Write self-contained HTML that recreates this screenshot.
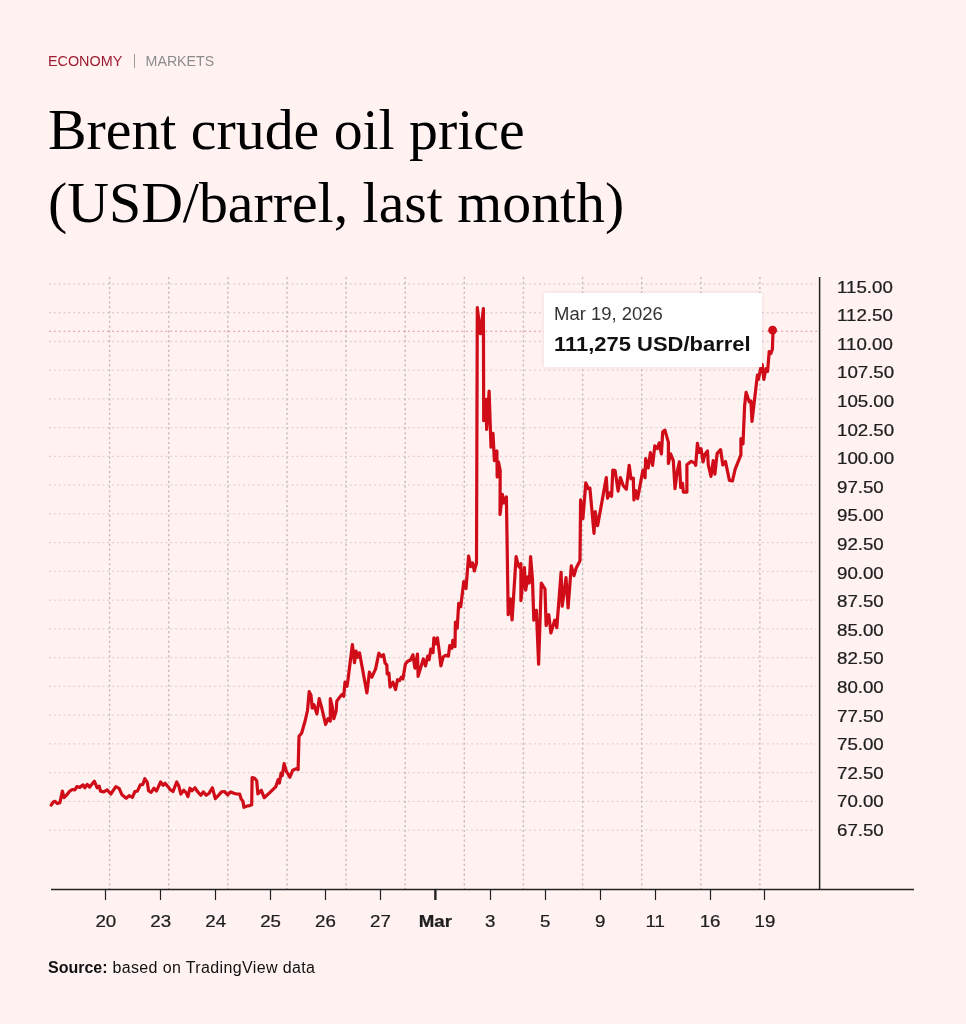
<!DOCTYPE html>
<html><head><meta charset="utf-8"><style>
html,body{margin:0;padding:0;}
body{width:966px;height:1024px;background:#fff2f1;position:relative;overflow:hidden;font-family:"Liberation Sans",Arial,sans-serif;}
#eco{position:absolute;left:47.9px;top:54.3px;color:#9e1c2f;font-size:14.4px;line-height:14px;white-space:nowrap;}
#sep{position:absolute;left:133.5px;top:54px;width:1px;height:13.6px;background:#9a9a9a;}
#mkt{position:absolute;left:145.6px;top:54.3px;color:#8c8c8c;font-size:14.2px;line-height:14px;white-space:nowrap;}
h1{position:absolute;left:48px;top:94px;margin:0;font-family:"Liberation Serif","Times New Roman",serif;font-weight:normal;font-size:57.8px;line-height:72.5px;color:#000;white-space:nowrap;}
svg{position:absolute;left:0;top:0;}
#src{position:absolute;left:48px;top:958px;font-size:16px;line-height:20px;color:#111;white-space:nowrap;}
#src span{letter-spacing:0.37px;}
#tip{position:absolute;left:544px;top:292.5px;width:218px;height:74.5px;background:#fff;box-shadow:0 0 4px rgba(90,40,40,0.10);}
#tip .d{position:absolute;left:9.5px;top:11.5px;font-size:17.5px;line-height:20px;color:#333;white-space:nowrap;transform:scaleX(1.055);transform-origin:0 0;}
#tip .v{position:absolute;left:10px;top:40px;font-size:20.8px;line-height:22px;font-weight:bold;color:#111;white-space:nowrap;transform:scaleX(1.056);transform-origin:0 0;}
</style></head><body>
<div id="eco">ECONOMY</div><div id="sep"></div><div id="mkt">MARKETS</div>
<h1>Brent crude oil price<br>(USD/barrel, last month)</h1>
<svg width="966" height="1024" viewBox="0 0 966 1024">
<g stroke="#ddd3d3" stroke-width="1.3" stroke-dasharray="2 2.85" fill="none">
<line x1="49" y1="284.00" x2="816" y2="284.00"/>
<line x1="49" y1="312.74" x2="816" y2="312.74"/>
<line x1="49" y1="341.48" x2="816" y2="341.48"/>
<line x1="49" y1="370.22" x2="816" y2="370.22"/>
<line x1="49" y1="398.96" x2="816" y2="398.96"/>
<line x1="49" y1="427.70" x2="816" y2="427.70"/>
<line x1="49" y1="456.44" x2="816" y2="456.44"/>
<line x1="49" y1="485.18" x2="816" y2="485.18"/>
<line x1="49" y1="513.92" x2="816" y2="513.92"/>
<line x1="49" y1="542.66" x2="816" y2="542.66"/>
<line x1="49" y1="571.40" x2="816" y2="571.40"/>
<line x1="49" y1="600.14" x2="816" y2="600.14"/>
<line x1="49" y1="628.88" x2="816" y2="628.88"/>
<line x1="49" y1="657.62" x2="816" y2="657.62"/>
<line x1="49" y1="686.36" x2="816" y2="686.36"/>
<line x1="49" y1="715.10" x2="816" y2="715.10"/>
<line x1="49" y1="743.84" x2="816" y2="743.84"/>
<line x1="49" y1="772.58" x2="816" y2="772.58"/>
<line x1="49" y1="801.32" x2="816" y2="801.32"/>
<line x1="49" y1="830.06" x2="816" y2="830.06"/>
</g>
<g stroke="#c6bcbc" stroke-width="1.4" stroke-dasharray="2.2 2.65" fill="none">
<line x1="109.6" y1="277" x2="109.6" y2="889"/>
<line x1="168.7" y1="277" x2="168.7" y2="889"/>
<line x1="227.8" y1="277" x2="227.8" y2="889"/>
<line x1="287.0" y1="277" x2="287.0" y2="889"/>
<line x1="346.1" y1="277" x2="346.1" y2="889"/>
<line x1="405.2" y1="277" x2="405.2" y2="889"/>
<line x1="464.3" y1="277" x2="464.3" y2="889"/>
<line x1="523.4" y1="277" x2="523.4" y2="889"/>
<line x1="582.6" y1="277" x2="582.6" y2="889"/>
<line x1="641.7" y1="277" x2="641.7" y2="889"/>
<line x1="700.8" y1="277" x2="700.8" y2="889"/>
<line x1="759.9" y1="277" x2="759.9" y2="889"/>
</g>
<line x1="49" y1="331.2" x2="819" y2="331.2" stroke="#e08a94" stroke-width="1.1" stroke-dasharray="1.8 3.05"/>
<g stroke="#222" fill="none">
<line x1="819.6" y1="277" x2="819.6" y2="890" stroke-width="1.5"/>
<line x1="51" y1="889.5" x2="914" y2="889.5" stroke-width="1.5"/>
<line x1="105.50" y1="889" x2="105.50" y2="900" stroke-width="1.2"/><line x1="160.50" y1="889" x2="160.50" y2="900" stroke-width="1.2"/><line x1="215.50" y1="889" x2="215.50" y2="900" stroke-width="1.2"/><line x1="270.50" y1="889" x2="270.50" y2="900" stroke-width="1.2"/><line x1="325.50" y1="889" x2="325.50" y2="900" stroke-width="1.2"/><line x1="380.50" y1="889" x2="380.50" y2="900" stroke-width="1.2"/><line x1="435.38" y1="889" x2="435.38" y2="900" stroke-width="2.4"/><line x1="490.50" y1="889" x2="490.50" y2="900" stroke-width="1.2"/><line x1="545.50" y1="889" x2="545.50" y2="900" stroke-width="1.2"/><line x1="600.50" y1="889" x2="600.50" y2="900" stroke-width="1.2"/><line x1="655.50" y1="889" x2="655.50" y2="900" stroke-width="1.2"/><line x1="710.50" y1="889" x2="710.50" y2="900" stroke-width="1.2"/><line x1="764.50" y1="889" x2="764.50" y2="900" stroke-width="1.2"/>
</g>
<g font-family="Liberation Sans, Arial, sans-serif" font-size="17" fill="#1e1e1e" stroke="#1e1e1e" stroke-width="0.25">
<text transform="translate(837 292.60) scale(1.1 1)">115.00</text>
<text transform="translate(837 321.20) scale(1.1 1)">112.50</text>
<text transform="translate(837 349.79) scale(1.1 1)">110.00</text>
<text transform="translate(837 378.39) scale(1.1 1)">107.50</text>
<text transform="translate(837 406.99) scale(1.1 1)">105.00</text>
<text transform="translate(837 435.59) scale(1.1 1)">102.50</text>
<text transform="translate(837 464.18) scale(1.1 1)">100.00</text>
<text transform="translate(837 492.78) scale(1.1 1)">97.50</text>
<text transform="translate(837 521.38) scale(1.1 1)">95.00</text>
<text transform="translate(837 549.97) scale(1.1 1)">92.50</text>
<text transform="translate(837 578.57) scale(1.1 1)">90.00</text>
<text transform="translate(837 607.17) scale(1.1 1)">87.50</text>
<text transform="translate(837 635.76) scale(1.1 1)">85.00</text>
<text transform="translate(837 664.36) scale(1.1 1)">82.50</text>
<text transform="translate(837 692.96) scale(1.1 1)">80.00</text>
<text transform="translate(837 721.56) scale(1.1 1)">77.50</text>
<text transform="translate(837 750.15) scale(1.1 1)">75.00</text>
<text transform="translate(837 778.75) scale(1.1 1)">72.50</text>
<text transform="translate(837 807.35) scale(1.1 1)">70.00</text>
<text transform="translate(837 835.94) scale(1.1 1)">67.50</text>
</g>
<g font-family="Liberation Sans, Arial, sans-serif" font-size="17" fill="#1e1e1e" stroke="#1e1e1e" stroke-width="0.25" text-anchor="middle">
<text transform="translate(105.80 927.4) scale(1.1 1)">20</text><text transform="translate(160.73 927.4) scale(1.1 1)">23</text><text transform="translate(215.66 927.4) scale(1.1 1)">24</text><text transform="translate(270.59 927.4) scale(1.1 1)">25</text><text transform="translate(325.52 927.4) scale(1.1 1)">26</text><text transform="translate(380.45 927.4) scale(1.1 1)">27</text><text transform="translate(435.38 927.4) scale(1.1 1)" font-weight="bold">Mar</text><text transform="translate(490.31 927.4) scale(1.1 1)">3</text><text transform="translate(545.24 927.4) scale(1.1 1)">5</text><text transform="translate(600.17 927.4) scale(1.1 1)">9</text><text transform="translate(655.10 927.4) scale(1.1 1)">11</text><text transform="translate(710.03 927.4) scale(1.1 1)">16</text><text transform="translate(764.96 927.4) scale(1.1 1)">19</text>
</g>
<path d="M51.2,805.2 L53.3,801.9 L54.9,801.3 L57.4,803.5 L59.9,802.7 L62.4,791.1 L64,797.7 L66.9,794.8 L69.8,791.1 L72.3,789.5 L74.8,789.9 L76.9,786.6 L79.8,787.4 L83.1,784.9 L84.8,787.8 L87.2,784.5 L89.7,787 L94.3,781.2 L97.2,787.8 L99.2,786.1 L100.5,791.1 L103.8,791.9 L107.1,789.9 L110.8,794 L115.8,786.6 L119.1,788.3 L122,794.8 L126.2,798.2 L129.1,795.7 L132.4,797.3 L134.9,791.5 L137.4,791.1 L140.3,784.9 L142.8,784.5 L144.8,778.7 L147.3,782.4 L148.6,790.7 L151.1,792.4 L154,788.2 L156.4,791.1 L160.6,782 L163.1,785.3 L165.1,783.3 L168.9,787.8 L170.1,789.5 L173,791.5 L176.7,782 L178.8,786.1 L180.9,794 L183.8,790.3 L186.3,792.8 L187.9,796.5 L190,788.2 L192,790.7 L195,787.8 L197.5,791.5 L200.8,795.3 L203.3,791.9 L206.2,795.3 L209.1,793.2 L212.4,787.8 L215.3,798.6 L218.2,795.7 L221.5,791.9 L224.4,791.5 L227.7,794.8 L230.6,791.9 L233.9,793.2 L236.4,794 L239.7,794 L241,798.6 L243,801.5 L243.9,807.3 L247.2,806 L249.7,805.6 L251.7,804.8 L252.1,777.5 L254.6,778.3 L256.7,780.8 L257.9,794 L261.3,790.3 L264.2,797.7 L270,792.4 L275.9,786.6 L278.2,779.6 L279.4,783.1 L281.1,773.1 L282.3,775.5 L284.1,763.7 L286.4,771.4 L289.9,777.2 L292.8,770.2 L296.9,768.4 L298.1,769.6 L299,736.2 L301.6,733.3 L305.1,721 L307.5,710.5 L309.2,691.7 L311,695.2 L312.2,708.1 L313.9,704.6 L316.9,714 L319.2,698.7 L321.5,706.9 L325.6,724.5 L328,718.7 L330.3,721 L330.3,698.7 L332.1,705.8 L333.8,718.7 L336.2,710.5 L336.8,701.1 L340.3,696.4 L342.5,694.2 L343.7,696.3 L345,682.2 L347,686.3 L347.9,680.5 L352.4,644.5 L354.5,662.7 L356.1,651.1 L357.8,657.3 L359.5,652.8 L366.9,692.9 L369.4,672.2 L371.9,677.2 L375.6,668.9 L378.9,653.2 L381.4,656.5 L383.5,654.8 L385.1,663.1 L386.8,664.8 L387.2,673.9 L388.9,673.1 L390.1,687.1 L393,682.2 L395.5,689.6 L397.6,679.7 L399.6,680.5 L401.3,677.2 L402.9,678.9 L405.4,664 L407.9,661.1 L410.4,660.2 L412.9,654.8 L414.9,668.1 L417.5,654 L418.1,676.4 L423.3,658.9 L425.5,665.9 L427.7,656.2 L429.1,659.7 L430.8,649.2 L433,652.7 L433.9,637.8 L436.1,643.9 L437.4,637.8 L439.2,651 L440.9,665.9 L443.1,657.1 L445.7,655.3 L448.4,656.2 L449.7,645.7 L451.9,648.3 L452.8,640.4 L455,646.6 L455.4,622 L457.2,628.1 L458.7,603.3 L460.7,606.7 L463.8,581.5 L466,588.5 L468.6,556 L470.8,566.6 L472.6,563 L474.3,571 L476.5,563 L477.3,307.7 L480.4,333.7 L483.4,308.6 L483.7,420.7 L486.1,399.3 L486.6,429.5 L489.1,391 L491,447.1 L493,433.4 L494.4,460.7 L496.9,451 L497.2,477 L498.5,462 L500.2,470.5 L500,514.5 L502.4,494.3 L503.8,503 L506.4,496.9 L508.2,614.7 L510.4,598.9 L512.1,620 L516.1,556.7 L517.8,563.7 L519.2,567.2 L520.9,563.7 L520.9,600.6 L524.4,567.7 L525.7,590.1 L527.9,576.9 L529.3,583 L530.6,556.7 L532.5,580 L533.8,620.1 L536.4,610.4 L538.6,664.1 L541.3,583.1 L545,589 L546.1,625.5 L548.8,614.7 L550.9,633 L554.7,620.1 L556.8,627.6 L561.1,572.3 L562.2,606.2 L566,577.7 L568.1,607.8 L571.3,565.9 L574,575.6 L576.2,568 L580,560.8 L580.6,499.9 L582.9,518.6 L585.8,482.9 L588.2,488.7 L589.9,488.1 L594,533.3 L595.2,511.6 L597.6,525.7 L606.3,477.6 L607.5,498.1 L609.9,492.8 L611.6,496.3 L612.8,470 L615.1,470.6 L618.1,491.1 L620.4,477.6 L623.3,485.8 L626.3,489.3 L629.2,465.3 L631,478.8 L633.3,478.2 L633.9,499.9 L635.7,490.5 L637.6,498.7 L642.9,470.1 L645.1,477.6 L645.6,458.7 L648.2,467.9 L650.4,452.5 L652.6,465.3 L654.8,445.9 L657.4,448.6 L659.2,442.9 L661.4,453.9 L662.7,431.9 L664.9,430.1 L668.4,442.4 L668.4,463.5 L670.6,453.9 L673.3,460.5 L675,488.6 L677.2,471.9 L679.4,461.8 L680.7,487.3 L682.5,483.3 L683.4,492.1 L686.9,492.1 L686.9,464.8 L691.3,461.3 L694.8,463.1 L695.7,465.3 L697.4,443.3 L699.2,452.5 L701,448.6 L703.1,461.9 L704.8,454.5 L707.5,451 L708.3,465 L711,476.4 L713.2,460.6 L714.9,474.2 L717.1,453.6 L720.6,449.6 L722.8,465 L725.5,461.5 L729.4,480.4 L732.5,480.8 L735.1,469.4 L740.9,454.9 L740.9,438.7 L743,443.9 L744.6,406 L746.1,392.3 L749.3,401.9 L750.9,400.9 L752,421.3 L757.4,375.1 L758.4,379.4 L760.6,368.7 L762.2,364.4 L763.8,379.4 L766,368.7 L767.6,371.3 L769.2,351.5 L770.8,353.6 L772.4,349.3 L772.9,334.3 L772.7,330" fill="none" stroke="#cf0c17" stroke-width="3.2" stroke-linejoin="round" stroke-linecap="round"/>
<circle cx="772.6" cy="330.2" r="4.4" fill="#cf0c17"/>
</svg>
<div id="tip"><div class="d">Mar 19, 2026</div><div class="v">111,275 USD/barrel</div></div>
<div id="src"><b>Source:</b><span> based on TradingView data</span></div>
</body></html>
